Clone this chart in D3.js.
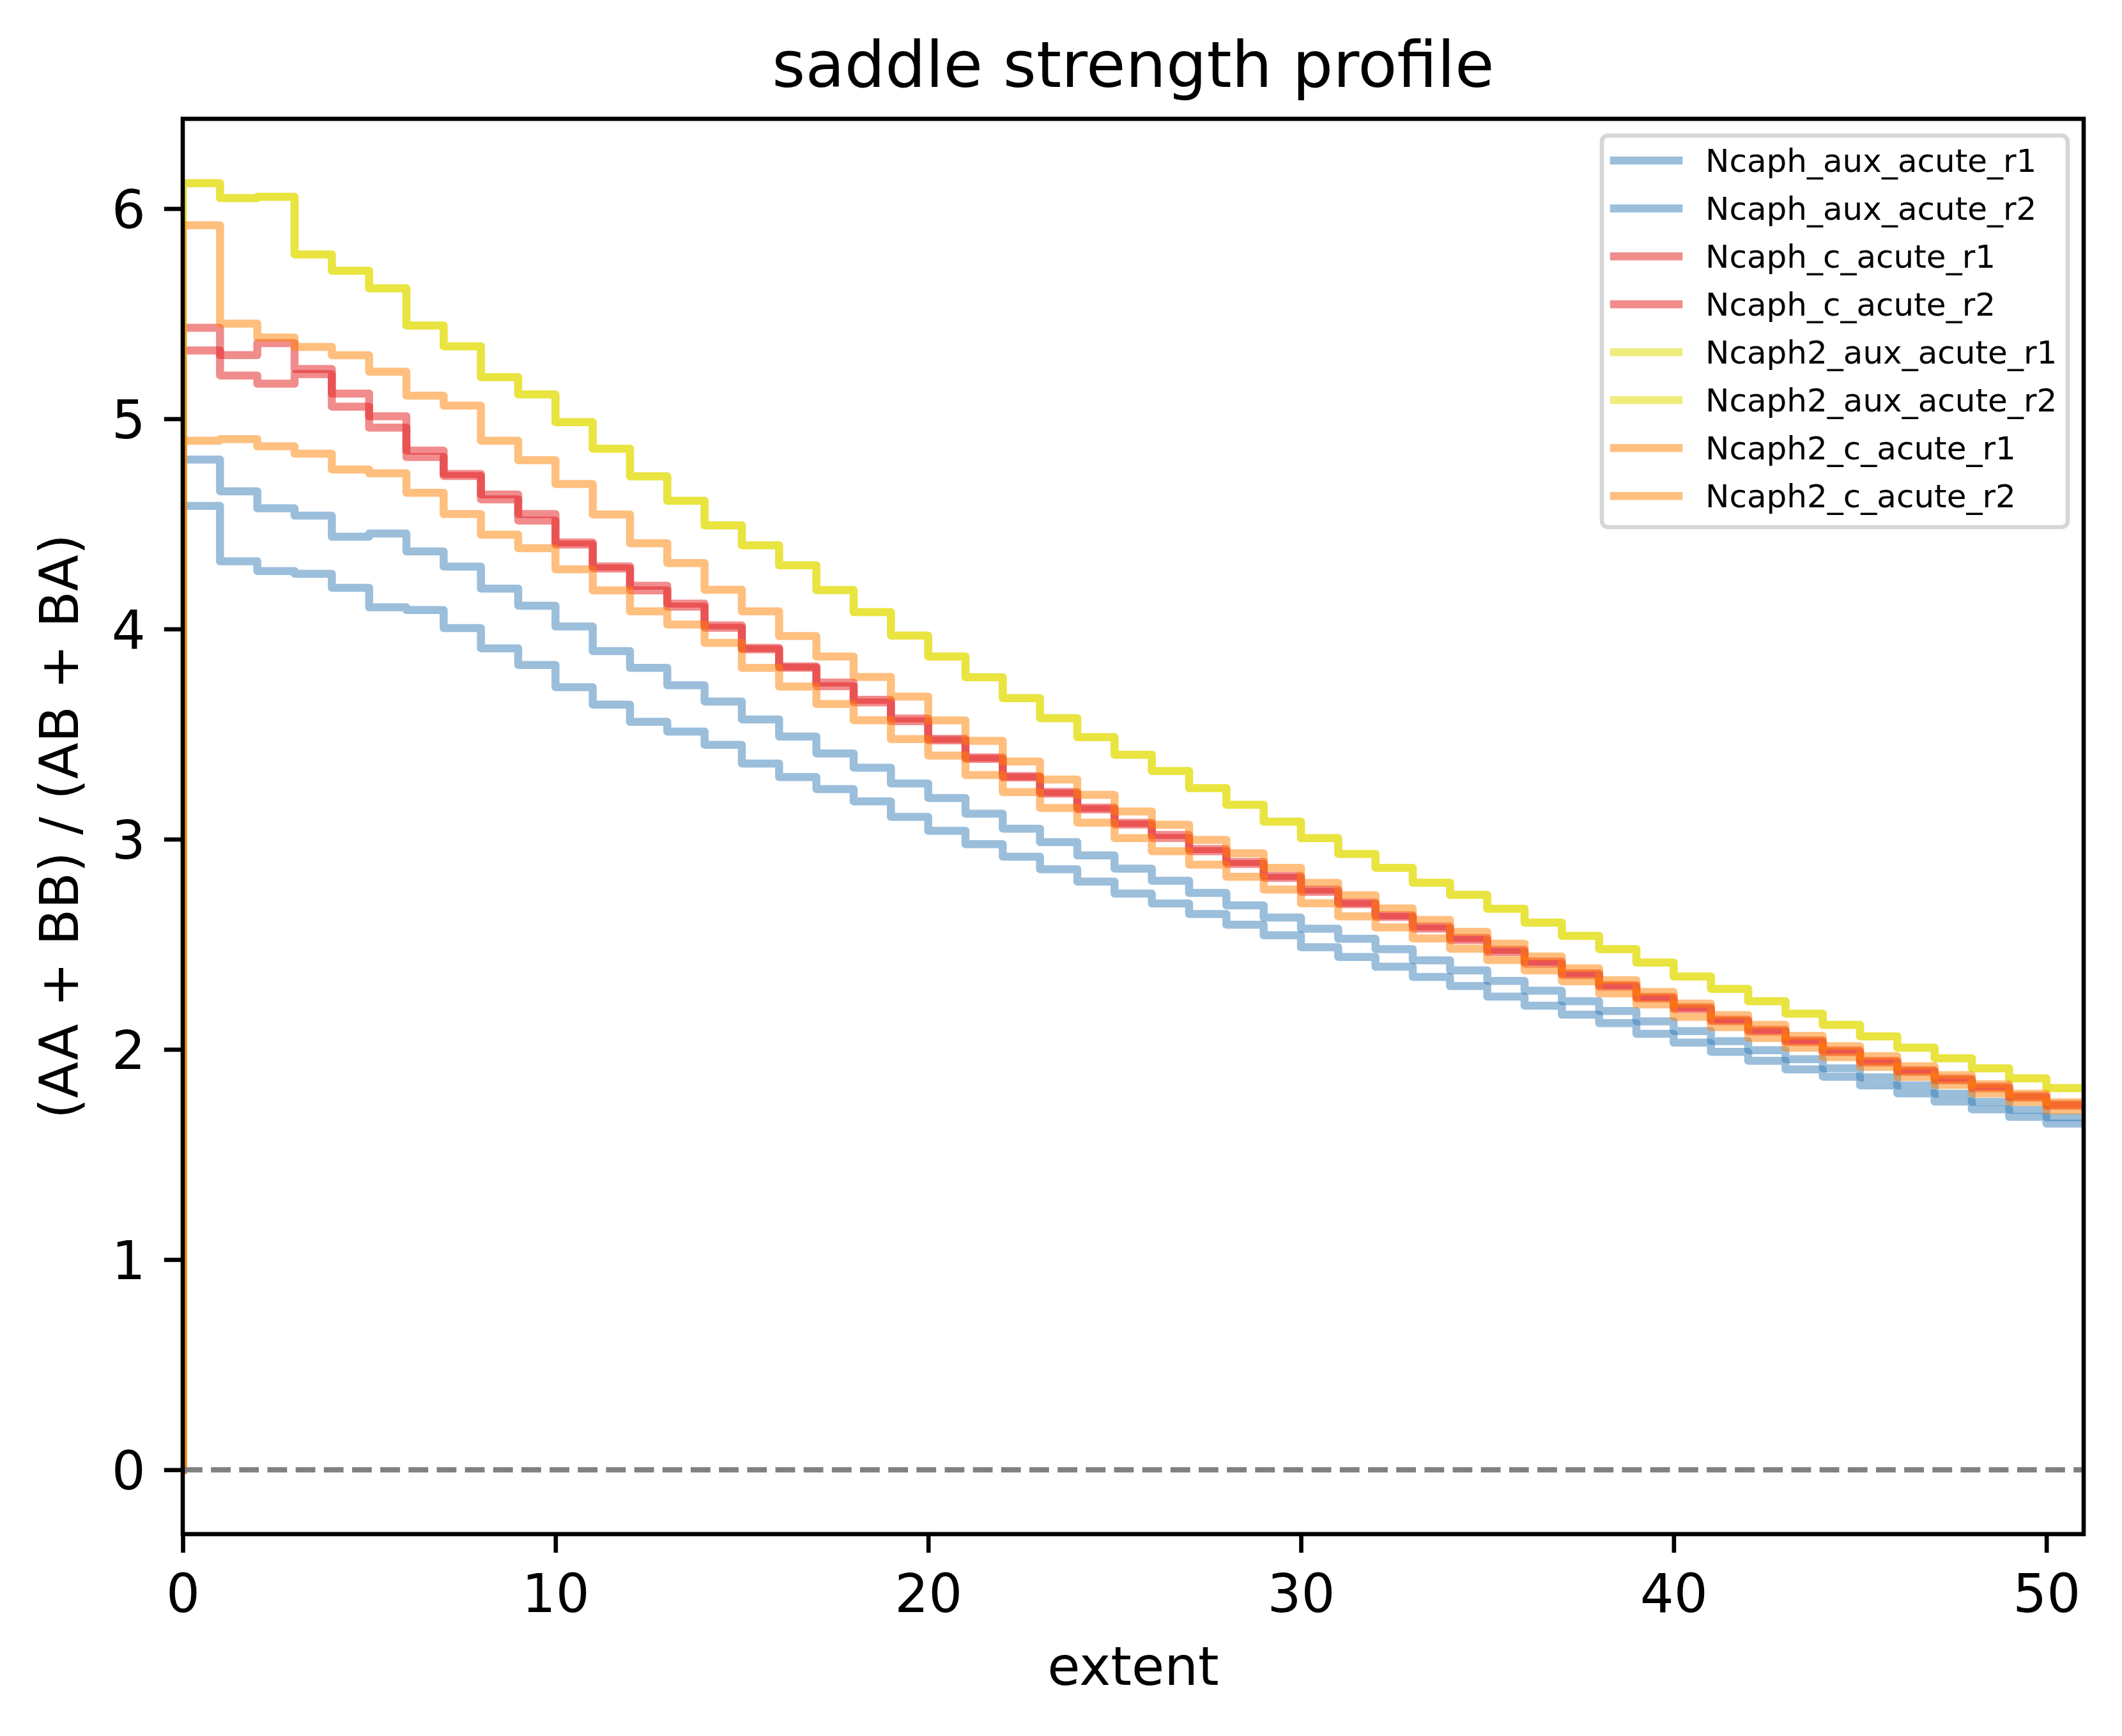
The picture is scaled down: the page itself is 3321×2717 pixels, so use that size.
<!DOCTYPE html>
<html>
<head>
<meta charset="utf-8">
<script src="https://cdn.jsdelivr.net/npm/d3@7/dist/d3.min.js"></script>
<style>
  html, body { margin: 0; padding: 0; background: #ffffff; }
  svg { display: block; }
  text { font-family: "DejaVu Sans", sans-serif; fill: #000; }
</style>
</head>
<body>
<svg id="chart" width="3321" height="2717"></svg>
<script>
// ---------------- DATA ----------------
const extent = [0,1,2,3,4,5,6,7,8,9,10,11,12,13,14,15,16,17,18,19,20,21,22,23,24,25,
  26,27,28,29,30,31,32,33,34,35,36,37,38,39,40,41,42,43,44,45,46,47,48,49,50,51];

const seriesNames = ["Ncaph_aux_acute_r1","Ncaph_aux_acute_r2","Ncaph_c_acute_r1","Ncaph_c_acute_r2",
  "Ncaph2_aux_acute_r1","Ncaph2_aux_acute_r2","Ncaph2_c_acute_r1","Ncaph2_c_acute_r2"];

const Ncaph_aux_acute_r1 = [0,4.806,4.655,4.574,4.539,4.439,4.454,4.369,4.297,4.192,4.111,
  4.012,3.895,3.815,3.732,3.655,3.570,3.488,3.408,3.340,3.265,3.196,3.121,3.050,2.986,2.923,
  2.860,2.802,2.744,2.685,2.627,2.574,2.526,2.477,2.424,2.376,2.326,2.279,2.229,2.183,2.133,
  2.087,2.039,1.996,1.953,1.910,1.867,1.829,1.789,1.750,1.712,1.677];
const Ncaph_aux_acute_r2 = [0,4.586,4.322,4.276,4.263,4.196,4.103,4.090,4.004,3.908,3.829,
  3.723,3.640,3.558,3.512,3.449,3.360,3.295,3.238,3.180,3.106,3.040,2.976,2.917,2.857,2.798,
  2.741,2.694,2.644,2.593,2.543,2.486,2.440,2.393,2.345,2.301,2.251,2.208,2.165,2.125,2.074,
  2.032,1.988,1.946,1.905,1.870,1.829,1.791,1.752,1.715,1.679,1.647];
const Ncaph_c_acute_r1 = [0,5.433,5.303,5.360,5.237,5.120,5.012,4.849,4.738,4.640,4.547,
  4.412,4.298,4.206,4.121,4.017,3.910,3.822,3.745,3.663,3.574,3.478,3.389,3.300,3.225,3.150,
  3.078,3.020,2.953,2.892,2.826,2.760,2.699,2.638,2.585,2.530,2.474,2.418,2.362,2.306,2.250,
  2.200,2.142,2.093,2.043,1.995,1.946,1.901,1.861,1.823,1.779,1.739];
const Ncaph_c_acute_r2 = [0,5.325,5.206,5.167,5.213,5.058,4.958,4.818,4.728,4.617,4.516,
  4.402,4.288,4.184,4.106,4.006,3.903,3.816,3.728,3.651,3.561,3.470,3.382,3.294,3.217,3.142,
  3.070,3.006,2.943,2.882,2.816,2.750,2.691,2.630,2.575,2.520,2.464,2.408,2.354,2.298,2.242,
  2.192,2.134,2.085,2.035,1.987,1.938,1.893,1.853,1.815,1.771,1.731];
const Ncaph2_aux_acute_r1 = [0,6.121,6.050,6.056,5.782,5.704,5.621,5.444,5.345,5.198,5.116,
  4.984,4.858,4.726,4.610,4.493,4.398,4.303,4.185,4.080,3.969,3.869,3.770,3.671,3.576,3.485,
  3.402,3.324,3.243,3.164,3.083,3.005,2.930,2.864,2.793,2.735,2.669,2.603,2.540,2.477,2.413,
  2.347,2.288,2.229,2.170,2.117,2.062,2.008,1.958,1.910,1.862,1.816];
const Ncaph2_aux_acute_r2 = [0,6.121,6.050,6.056,5.782,5.704,5.621,5.444,5.345,5.198,5.116,
  4.984,4.858,4.726,4.610,4.493,4.398,4.303,4.185,4.080,3.969,3.869,3.770,3.671,3.576,3.485,
  3.402,3.324,3.243,3.164,3.083,3.005,2.930,2.864,2.793,2.735,2.669,2.603,2.540,2.477,2.413,
  2.347,2.288,2.229,2.170,2.117,2.062,2.008,1.958,1.910,1.862,1.816];
const Ncaph2_c_acute_r1 = [0,5.921,5.453,5.387,5.342,5.302,5.224,5.110,5.063,4.896,4.803,
  4.690,4.545,4.408,4.314,4.187,4.084,3.966,3.869,3.772,3.678,3.565,3.468,3.370,3.284,3.211,
  3.132,3.069,2.997,2.933,2.864,2.792,2.734,2.671,2.616,2.559,2.503,2.442,2.386,2.329,2.273,
  2.218,2.163,2.117,2.064,2.015,1.968,1.920,1.877,1.834,1.789,1.748];
const Ncaph2_c_acute_r2 = [0,4.896,4.903,4.869,4.834,4.759,4.741,4.648,4.547,4.449,4.384,
  4.284,4.184,4.084,4.021,3.934,3.815,3.726,3.643,3.566,3.476,3.398,3.305,3.224,3.149,3.079,
  3.005,2.943,2.879,2.821,2.760,2.695,2.633,2.580,2.528,2.479,2.425,2.376,2.324,2.266,2.214,
  2.155,2.106,2.054,2.008,1.963,1.917,1.869,1.831,1.791,1.750,1.710];

const seriesValues = [Ncaph_aux_acute_r1, Ncaph_aux_acute_r2, Ncaph_c_acute_r1, Ncaph_c_acute_r2,
  Ncaph2_aux_acute_r1, Ncaph2_aux_acute_r2, Ncaph2_c_acute_r1, Ncaph2_c_acute_r2];
const seriesColors = ["#377eb8","#377eb8","#e41a1c","#e41a1c","#e1db00","#e1db00","#ff7f00","#ff7f00"];

const xTicks = [0,10,20,30,40,50];
const yTicks = [0,1,2,3,4,5,6];
const titleText = "saddle strength profile";
const xLabelText = "extent";
const yLabelText = "(AA + BB) / (AB + BA)";

// ---------------- LAYOUT ----------------
const W = 3321, H = 2717;
const PT = 600 / 72;               // px per point (600 dpi)
const L = 286, R = 3261, T = 186, B = 2401;
const fontTick = 10 * PT, fontTitle = 12 * PT, fontLegend = 6.0 * PT;
const lw = 1.5 * PT, spineW = 0.8 * PT, tickLen = 3.5 * PT, tickPad = 3.5 * PT;

const svg = d3.select("#chart");
svg.append("rect").attr("width", W).attr("height", H).attr("fill", "#fff");

const allVals = seriesValues.flat();
const yMin = d3.min(allVals), yMax = d3.max(allVals);
const yMargin = 0.05 * (yMax - yMin);

const x = d3.scaleLinear().domain([0, 51]).range([L, R]);
const y = d3.scaleLinear().domain([yMin - yMargin, yMax + yMargin]).range([B, T]);

svg.append("defs").append("clipPath").attr("id", "plotclip")
  .append("rect").attr("x", L).attr("y", T).attr("width", R - L).attr("height", B - T);

const plot = svg.append("g").attr("clip-path", "url(#plotclip)");

const line = d3.line()
  .x((d, i) => x(extent[i]))
  .y(d => y(d))
  .curve(d3.curveStepBefore);

seriesValues.forEach((vals, si) => {
  plot.append("path")
    .attr("d", line(vals))
    .attr("fill", "none")
    .attr("stroke", seriesColors[si])
    .attr("stroke-opacity", 0.5)
    .attr("stroke-width", lw)
    .attr("stroke-linejoin", "round")
    .attr("stroke-linecap", "square");
});

// zero line
plot.append("line")
  .attr("x1", L).attr("x2", R)
  .attr("y1", y(0)).attr("y2", y(0))
  .attr("stroke", "#808080")
  .attr("stroke-width", 1 * PT)
  .attr("stroke-dasharray", `${3.7 * PT},${1.6 * PT}`);

// axes
const xAxis = d3.axisBottom(x).tickValues(xTicks).tickSize(tickLen).tickPadding(tickPad).tickFormat(d3.format("d"));
const yAxis = d3.axisLeft(y).tickValues(yTicks).tickSize(tickLen).tickPadding(tickPad).tickFormat(d3.format("d"));

const gx = svg.append("g").attr("transform", `translate(0,${B})`).call(xAxis);
const gy = svg.append("g").attr("transform", `translate(${L},0)`).call(yAxis);

[gx, gy].forEach(g => {
  g.select(".domain").remove();
  g.selectAll(".tick line").attr("stroke", "#000").attr("stroke-width", spineW);
  g.selectAll(".tick text")
    .attr("fill", "#000")
    .style("font-family", "'DejaVu Sans', sans-serif")
    .style("font-size", fontTick + "px");
});
gx.selectAll(".tick text").attr("dy", null).attr("y", tickLen + tickPad + 0.76 * fontTick);
gy.selectAll(".tick text").attr("dy", null).attr("y", 0.36 * fontTick);

// spines (frame)
svg.append("rect")
  .attr("x", L).attr("y", T).attr("width", R - L).attr("height", B - T)
  .attr("fill", "none").attr("stroke", "#000").attr("stroke-width", spineW)
  .attr("stroke-linejoin", "miter");

// title and labels
svg.append("text")
  .attr("x", (L + R) / 2).attr("y", T - 6 * PT)
  .attr("text-anchor", "middle")
  .style("font-size", fontTitle + "px")
  .text(titleText);

svg.append("text")
  .attr("x", (L + R) / 2).attr("y", 2637)
  .attr("text-anchor", "middle")
  .style("font-size", fontTick + "px")
  .text(xLabelText);

svg.append("text")
  .attr("transform", `translate(122,${(T + B) / 2}) rotate(-90)`)
  .attr("text-anchor", "middle")
  .style("font-size", fontTick + "px")
  .text(yLabelText);

// legend
const legX = 2507, legY = 212, legW = 729, legH = 613;
const leg = svg.append("g");
leg.append("rect")
  .attr("x", legX).attr("y", legY).attr("width", legW).attr("height", legH)
  .attr("rx", 0.2 * 48.2).attr("ry", 0.2 * 48.2)
  .attr("fill", "#fff").attr("fill-opacity", 0.8)
  .attr("stroke", "#cccccc").attr("stroke-opacity", 0.8)
  .attr("stroke-width", spineW);

const rowY0 = 251.3, rowStep = 75.0;
seriesNames.forEach((name, i) => {
  const cy = rowY0 + i * rowStep;
  leg.append("line")
    .attr("x1", 2526).attr("x2", 2627)
    .attr("y1", cy).attr("y2", cy)
    .attr("stroke", seriesColors[i]).attr("stroke-opacity", 0.5)
    .attr("stroke-width", lw).attr("stroke-linecap", "square");
  leg.append("text")
    .attr("x", 2669).attr("y", cy + 0.35 * fontLegend)
    .style("font-size", fontLegend + "px")
    .text(name);
});
</script>
</body>
</html>
